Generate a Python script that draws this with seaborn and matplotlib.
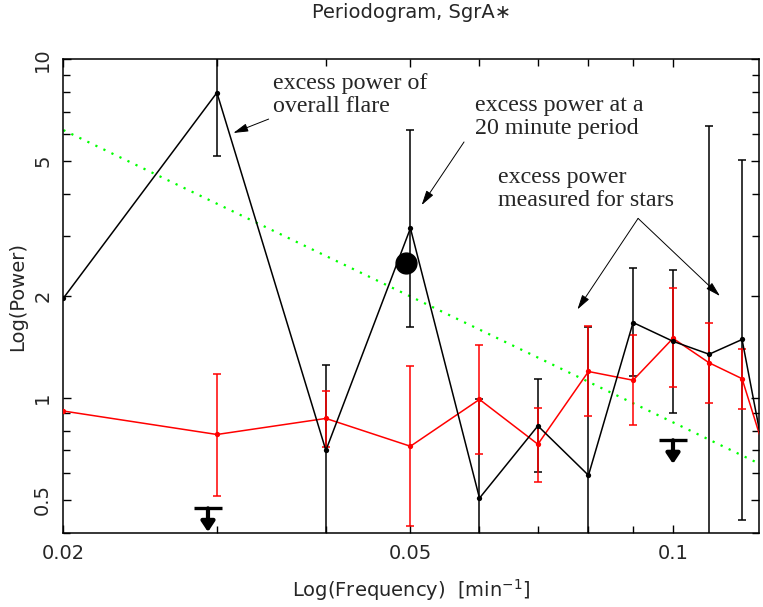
import numpy as np
import matplotlib
matplotlib.use("Agg")
import matplotlib.pyplot as plt
import seaborn as sns
from matplotlib.transforms import offset_copy

# frequencies [1/min]
freq = [0.02, 0.03, 0.04, 0.05, 0.06, 0.07, 0.08, 0.09, 0.10, 0.11, 0.12, 0.13]

# SgrA* periodogram (black)
black_power = [1.97, 7.97, 0.70, 3.17, 0.506, 0.827, 0.591, 1.67, 1.47, 1.346, 1.488, 0.506]
black_hi = [np.nan, 11.0, 1.255, 6.18, 0.99, 1.136, 1.62, 2.42, 2.38, 6.35, 5.04, np.nan]
black_lo = [np.nan, 5.18, 0.30, 1.62, 0.30, 0.606, 0.30, 1.16, 0.905, 0.30, 0.437, np.nan]

# stars (red)
red_power = [0.915, 0.78, 0.87, 0.72, 0.99, 0.73, 1.197, 1.128, 1.50, 1.27, 1.14, 0.589]
red_hi = [np.nan, 1.18, 1.047, 1.24, 1.434, 0.937, 1.63, 1.53, 2.11, 1.665, 1.395, np.nan]
red_lo = [np.nan, 0.515, 0.717, 0.418, 0.682, 0.565, 0.883, 0.834, 1.08, 0.967, 0.93, np.nan]

# dotted significance line (green)
green_freq = [0.02, 0.1255]
green_power = [6.18, 0.64]

# big dot at the 20 minute period
dot_freq = [0.0494]
dot_power = [2.5]

# upper limits
ul_freq = [0.0293, 0.1]
ul_power = [0.472, 0.75]

ytick_vals = [0.5, 1, 2, 5, 10]
ytick_labels = ["0.5", "1", "2", "5", "10"]
xtick_vals = [0.02, 0.05, 0.1]
xtick_labels = ["0.02", "0.05", "0.1"]

sns.set_style("ticks")
plt.rcParams["font.family"] = ["DejaVu Sans"]

fig = plt.figure(figsize=(7.63, 6.07), dpi=100)
ax = fig.add_axes([0.083, 0.1224, 0.9118, 0.7799])
ax.set_xscale("log")
ax.set_yscale("log")

# error bars
b = np.array(black_power)
ax.errorbar(freq, black_power, yerr=[b - np.array(black_lo), np.array(black_hi) - b],
            fmt="none", ecolor="black", elinewidth=1.1, capsize=2.9, capthick=1.1, zorder=2)
r = np.array(red_power)
ax.errorbar(freq, red_power, yerr=[r - np.array(red_lo), np.array(red_hi) - r],
            fmt="none", ecolor="red", elinewidth=1.1, capsize=2.9, capthick=1.1, zorder=3)

sns.lineplot(x=green_freq, y=green_power, ax=ax, color="#00ff00", lw=1.6,
             dashes=False, zorder=1).lines[-1].set_dashes((1, 3))
sns.lineplot(x=freq, y=red_power, ax=ax, color="red", lw=1.1, marker="o",
             markersize=3.8, markeredgewidth=0, sort=False, estimator=None, zorder=4)
sns.lineplot(x=freq, y=black_power, ax=ax, color="black", lw=1.1, marker="o",
             markersize=3.8, markeredgewidth=0, sort=False, estimator=None, zorder=5)
ax.plot(dot_freq, dot_power, ls="none", marker="o", ms=15, color="black", zorder=6)

# upper-limit arrows
ax.plot(ul_freq, ul_power, ls="none", marker="_", ms=20, mew=2.4, color="black", zorder=6)
down = offset_copy(ax.transData, fig=fig, x=0, y=-17, units="points")
for xf, yp in zip(ul_freq, ul_power):
    ax.annotate("", xy=(xf, yp), xycoords=down, xytext=(xf, yp), textcoords="data",
                arrowprops=dict(arrowstyle="-|>,head_length=0.3,head_width=0.2",
                                mutation_scale=20, lw=3, color="black",
                                shrinkA=0, shrinkB=0), zorder=6)

# annotations (y = baseline of the last line)
tkw = dict(family="Liberation Serif", fontsize=17.3, linespacing=1.13,
           ha="left", va="baseline")
ax.text(0.03483, 7.0, "excess power of\noverall flare", **tkw)
ax.text(0.05934, 6.02, "excess power at a\n20 minute period", **tkw)
ax.text(0.06296, 3.69, "excess power\nmeasured for stars", **tkw)

akw = dict(arrowstyle="-|>,head_length=0.9,head_width=0.25", mutation_scale=10,
           lw=0.7, color="black", shrinkA=0, shrinkB=0)
ax.annotate("", xy=(0.03133, 6.06), xytext=(0.03439, 6.66), arrowprops=akw)
ax.annotate("", xy=(0.05150, 3.71), xytext=(0.05760, 5.70), arrowprops=akw)
ax.annotate("", xy=(0.0777, 1.825), xytext=(0.0912, 3.39), arrowprops=akw)
ax.annotate("", xy=(0.1132, 2.00), xytext=(0.0912, 3.39), arrowprops=akw)

ax.set_xlim(0.02, 0.1255)
ax.set_ylim(0.4, 10)
ax.set_xticks(xtick_vals, labels=xtick_labels)
ax.set_yticks(ytick_vals, labels=ytick_labels)
ax.xaxis.set_minor_formatter(matplotlib.ticker.NullFormatter())
ax.yaxis.set_minor_formatter(matplotlib.ticker.NullFormatter())
for lab in ax.get_yticklabels():
    lab.set_rotation(90)
    lab.set_va("center")
ax.tick_params(which="both", direction="in", top=True, right=True,
               color="black", width=1.0, labelsize=14)
ax.tick_params(which="major", length=6, pad=8)
ax.tick_params(which="minor", length=5)
for sp in ax.spines.values():
    sp.set_visible(True)
    sp.set_linewidth(1.1)
    sp.set_color("black")

ax.set_xlabel(r"Log(Frequency)  [min$^{-1}$]", fontsize=14)
ax.set_ylabel("Log(Power)", fontsize=14)
ax.xaxis.set_label_coords(0.5, -0.093)
ax.yaxis.set_label_coords(-0.052, 0.5)
fig.text(0.54, 1 - 12 / 607, "Periodogram, SgrA\u2217", ha="center", va="center", fontsize=14)

fig.savefig("out.png", dpi=100)
